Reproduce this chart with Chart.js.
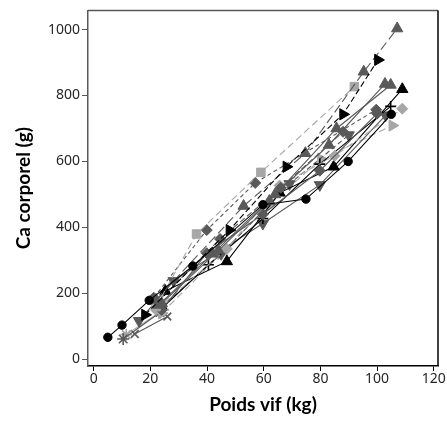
<!DOCTYPE html>
<html>
<head>
<meta charset="utf-8">
<script src="https://cdn.jsdelivr.net/npm/chart.js@4"></script>
<style>
html,body{margin:0;padding:0;background:#fff;}
#wrap{width:447px;height:421px;}
</style>
</head>
<body>
<div id="wrap"><canvas id="c" width="447" height="421"></canvas></div>
<script>
// ---- data (Poids vif kg / Ca corporel g) ----
const circleX = [5, 10, 19.6, 35, 59.7, 74.9, 89.8, 105];
const circleY = [67, 104, 179, 283, 469, 486, 600, 743];
const rtriX = [18.1, 47.9, 68, 88, 100.3];
const rtriY = [135, 392, 584, 743, 908];
const utri1X = [22, 52.9, 74.7, 95.3, 107.1];
const utri1Y = [180, 465, 625, 872, 1003];
const utri2X = [24, 44, 62, 85.7, 104.8];
const utri2Y = [170, 330, 480, 700, 832];
const utri3X = [23, 42, 64, 83, 102.8];
const utri3Y = [165, 320, 500, 650, 835];
const squareX = [22, 36.3, 59, 92];
const squareY = [160, 380, 567, 827];
const diam1X = [21.2, 39.9, 57, 99.7];
const diam1Y = [187, 392, 535, 757];
const diam2X = [24, 39.9, 59.7, 79.8, 100];
const diam2Y = [150, 322, 440, 572, 745];
const diam3X = [22, 44.6, 66, 88];
const diam3Y = [170, 365, 520, 690];
const ldiamX = [22, 47, 65.6, 85, 108.9];
const ldiamY = [150, 335, 527, 617, 760];
const btriX = [25.3, 47, 65.6, 84.7, 108.9];
const btriY = [207, 297, 505, 584, 819];
const crossX = [24, 40.5, 59.7, 79.8, 104.8];
const crossY = [155, 287, 427, 592, 767];
const dtriX = [16, 28.2, 59.7, 79.8, 103];
const dtriY = [117, 238, 412, 529, 740];
const dtri2X = [24, 45, 69.1, 90];
const dtri2Y = [160, 320, 532, 680];
const ltriX = [24, 45, 62, 80.2, 105.4];
const ltriY = [140, 320, 470, 607, 709];
const star1X = [10.4, 23.4];
const star1Y = [62, 142];
const star2X = [11.5, 24.5];
const star2Y = [75, 150];
const star3X = [14.5, 26];
const star3Y = [77, 130];
const xTicks = [0, 20, 40, 60, 80, 100, 120];
const yTicks = [0, 200, 400, 600, 800, 1000];

const BLACK = '#000000', DARK = '#595959', LIGHT = '#a6a6a6';
function pts(xs, ys){ return xs.map((x,i)=>({x:x, y:ys[i]})); }
function ds(xs, ys, color, style, radius, dash, rot){
  return {
    data: pts(xs, ys), showLine: true,
    borderColor: color, backgroundColor: color, borderWidth: 1.1,
    borderDash: dash || [], pointStyle: style, pointRadius: radius,
    pointRotation: rot || 0, pointBorderColor: color, pointBackgroundColor: color,
    pointBorderWidth: (style==='star'||style==='cross'||style==='crossRot') ? 1.6 : 1
  };
}
const datasets = [
  ds(circleX, circleY, BLACK, 'circle', 4.2),
  ds(rtriX, rtriY, BLACK, 'triangle', 6.5, [6,3], 90),
  ds(utri1X, utri1Y, DARK, 'triangle', 6.5, [9,4]),
  ds(utri2X, utri2Y, DARK, 'triangle', 6.5),
  ds(utri3X, utri3Y, DARK, 'triangle', 6.5),
  ds(squareX, squareY, LIGHT, 'rect', 6, [7,4]),
  ds(diam1X, diam1Y, DARK, 'rectRot', 5.5, [4,3]),
  ds(diam2X, diam2Y, DARK, 'rectRot', 5.5),
  ds(diam3X, diam3Y, DARK, 'rectRot', 5.5, [6,3]),
  ds(ldiamX, ldiamY, LIGHT, 'rectRot', 5.5, [7,4]),
  ds(btriX, btriY, BLACK, 'triangle', 6.5),
  ds(crossX, crossY, BLACK, 'cross', 5.5),
  ds(dtriX, dtriY, DARK, 'triangle', 6.5, [], 180),
  ds(dtri2X, dtri2Y, DARK, 'triangle', 6.5, [5,3], 180),
  ds(ltriX, ltriY, LIGHT, 'triangle', 6.5, [7,4], 90),
  ds(star1X, star1Y, DARK, 'star', 6),
  ds(star2X, star2Y, LIGHT, 'star', 6),
  ds(star3X, star3Y, DARK, 'crossRot', 5.5)
];

const frame = {
  id: 'frame',
  afterDraw(chart){
    const a = chart.chartArea, ctx = chart.ctx;
    ctx.save();
    ctx.lineWidth = 1.5;
    ctx.strokeStyle = DARK;
    ctx.beginPath(); ctx.moveTo(a.left, a.top); ctx.lineTo(a.right, a.top); ctx.stroke();
    ctx.strokeStyle = BLACK;
    ctx.beginPath(); ctx.moveTo(a.right, a.top); ctx.lineTo(a.right, a.bottom); ctx.stroke();
    ctx.restore();
  }
};

const tickFont = { family: "'Noto Sans', sans-serif", size: 14 };
new Chart(document.getElementById('c'), {
  type: 'scatter',
  data: { datasets: datasets },
  plugins: [frame],
  options: {
    responsive: false, animation: false, devicePixelRatio: 1,
    layout: { padding: { top: 7, right: 9, left: 0, bottom: 0 } },
    plugins: { legend: { display: false }, tooltip: { enabled: false } },
    scales: {
      x: {
        type: 'linear', min: -2, max: 121.5,
        afterBuildTicks(s){ s.ticks = xTicks.map(v=>({value:v})); },
        afterFit(s){ s.height = 55; },
        grid: { drawOnChartArea: false, tickLength: 5, color: BLACK, lineWidth: 1 },
        border: { color: BLACK, width: 1.5 },
        ticks: { color: '#262626', font: tickFont, padding: 0, maxRotation: 0,
                 callback: v => String(v) },
        title: { display: true, text: 'Poids vif (kg)', color: '#000', font: { family: 'Lato', size: 19, weight: 'bold' }, padding: { top: 0, bottom: 5 } }
      },
      y: {
        type: 'linear', min: -20, max: 1058,
        afterBuildTicks(s){ s.ticks = yTicks.map(v=>({value:v})); },
        afterFit(s){ s.width = 88; },
        grid: { drawOnChartArea: false, tickLength: 6, color: DARK, lineWidth: 1 },
        border: { color: DARK, width: 1.5 },
        ticks: { color: '#262626', font: tickFont, padding: 2,
                 callback: v => String(v) },
        title: { display: true, text: 'Ca corporel (g)', color: '#000', font: { family: 'Lato', size: 19, weight: 'bold' }, padding: { top: 12, bottom: 0 } }
      }
    }
  }
});
</script>
</body>
</html>
